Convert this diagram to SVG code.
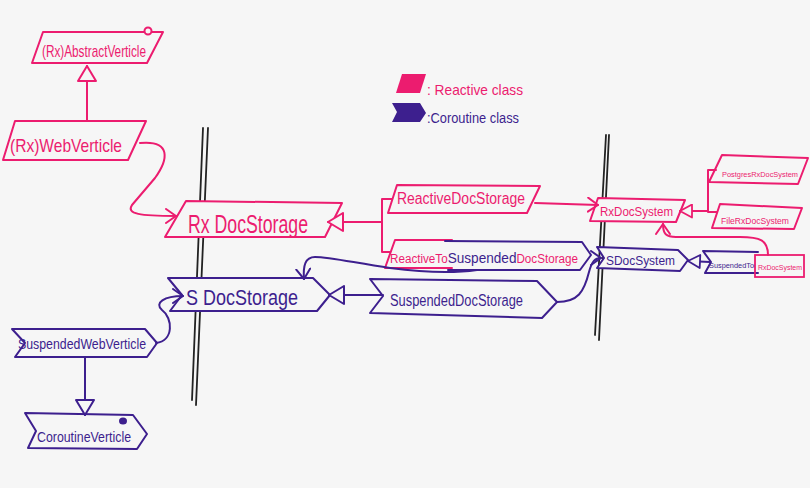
<svg xmlns="http://www.w3.org/2000/svg" width="810" height="488" viewBox="0 0 810 488">
<style>
.bg{fill:#f6f6f6}
.pk{fill:#f6f6f6;stroke:#ec1c6f;stroke-width:2;stroke-linejoin:round}
.pu{fill:#f6f6f6;stroke:#3d1f8e;stroke-width:2;stroke-linejoin:round}
.pkl{fill:none;stroke:#ec1c6f;stroke-width:2;stroke-linejoin:round;stroke-linecap:round}
.pul{fill:none;stroke:#3d1f8e;stroke-width:2;stroke-linejoin:round;stroke-linecap:round}
.wall{fill:none;stroke:#222;stroke-width:1.8;stroke-linecap:round}
.tp{font-family:"Liberation Sans","DejaVu Sans",sans-serif;fill:#ec1c6f}
.tu{font-family:"Liberation Sans","DejaVu Sans",sans-serif;fill:#3d1f8e}
.cp{fill:#ec1c6f}
.cu{fill:#3d1f8e}
</style>
<defs>
<marker id="openPk" markerUnits="userSpaceOnUse" viewBox="0 0 12 16" refX="11" refY="8" markerWidth="12" markerHeight="16" orient="auto"><path d="M1,1 L11,8 L1,15" fill="none" stroke="#ec1c6f" stroke-width="2" stroke-linecap="round" stroke-linejoin="round"/></marker>
<marker id="openPu" markerUnits="userSpaceOnUse" viewBox="0 0 12 16" refX="11" refY="8" markerWidth="12" markerHeight="16" orient="auto"><path d="M1,1 L11,8 L1,15" fill="none" stroke="#3d1f8e" stroke-width="2" stroke-linecap="round" stroke-linejoin="round"/></marker>
<marker id="triPk" markerUnits="userSpaceOnUse" viewBox="0 0 18 20" refX="17" refY="10" markerWidth="18" markerHeight="20" orient="auto"><path d="M2,1 L17,10 L2,19 Z" fill="#f6f6f6" stroke="#ec1c6f" stroke-width="2" stroke-linejoin="round"/></marker>
<marker id="triPu" markerUnits="userSpaceOnUse" viewBox="0 0 18 20" refX="17" refY="10" markerWidth="18" markerHeight="20" orient="auto"><path d="M2,1 L17,10 L2,19 Z" fill="#f6f6f6" stroke="#3d1f8e" stroke-width="2" stroke-linejoin="round"/></marker>
<marker id="triPkS" markerUnits="userSpaceOnUse" viewBox="0 0 15 15" refX="14" refY="7.5" markerWidth="15" markerHeight="15" orient="auto"><path d="M2,1 L14,7.5 L2,14 Z" fill="#f6f6f6" stroke="#ec1c6f" stroke-width="1.8" stroke-linejoin="round"/></marker>
<marker id="triPuS" markerUnits="userSpaceOnUse" viewBox="0 0 15 15" refX="14" refY="7.5" markerWidth="15" markerHeight="15" orient="auto"><path d="M2,1 L14,7.5 L2,14 Z" fill="#f6f6f6" stroke="#3d1f8e" stroke-width="1.8" stroke-linejoin="round"/></marker>
</defs>
<rect class="bg" x="0" y="0" width="810" height="488"/>

<g id="walls">
<path class="wall" d="M203,128 L192,400"/>
<path class="wall" d="M208,128 L196,405"/>
<path class="wall" d="M606,135 L595,335"/>
<path class="wall" d="M609,135 L599,340"/>
</g>

<g id="legend">
<polygon points="402,74 426,74 420,93 396,93" fill="#ec1c6f"/>
<polygon points="392,103 420,103 426,113 420,122 392,122 397,112" fill="#3d1f8e"/>
<text class="tp" x="427" y="95" font-size="15" textLength="96" lengthAdjust="spacingAndGlyphs">: Reactive class</text>
<text class="tu" x="427" y="123" font-size="14" textLength="92" lengthAdjust="spacingAndGlyphs">:Coroutine class</text>
</g>

<g id="abstractVerticle">
<polygon class="pk" points="43,32 163,32 147,63 32,63"/>
<circle cx="148" cy="31" r="3.5" fill="#f6f6f6" stroke="#ec1c6f" stroke-width="2"/>
<text class="tp" x="42" y="57" font-size="17" textLength="104" lengthAdjust="spacingAndGlyphs">(Rx)AbstractVerticle</text>
</g>

<g id="webVerticle">
<polygon class="pk" points="15,121 146,121 128,160 3,160"/>
<text class="tp" x="10" y="152" font-size="19" textLength="112" lengthAdjust="spacingAndGlyphs">(Rx)WebVerticle</text>
</g>

<g id="rxDocStorage">
<polygon class="pk" points="186,201 342,203 325,237 165,237"/>
<text class="tp" x="188" y="233" font-size="25" textLength="120" lengthAdjust="spacingAndGlyphs">Rx DocStorage</text>
</g>

<g id="reactiveDocStorage">
<polygon class="pk" points="397,185 540,186 527,213 388,213"/>
<text class="tp" x="397" y="204" font-size="16" textLength="128" lengthAdjust="spacingAndGlyphs">ReactiveDocStorage</text>
</g>

<g id="reactiveToSuspendedDocStorage">
<polygon points="395,240 582,242 591,255 580,270 385,268" fill="#f6f6f6"/>
<path class="pkl" d="M452,240 L395,240 L385,268 L452,268"/>
<path class="pul" d="M445,241 L582,242 L591,255 L580,270 L448,270"/>
<text class="tp" x="390" y="263" font-size="12" textLength="188" lengthAdjust="spacingAndGlyphs"><tspan class="cp">ReactiveTo</tspan><tspan class="cu" font-size="14">Suspended</tspan><tspan class="cp">DocStorage</tspan></text>
</g>

<g id="sDocStorage">
<polygon class="pu" points="168,278 313,278 330,295 317,311 170,311 182,295"/>
<text class="tu" x="186" y="305" font-size="22" textLength="112" lengthAdjust="spacingAndGlyphs">S DocStorage</text>
</g>

<g id="suspendedDocStorage">
<polygon class="pu" points="370,279 537,281 557,302 542,318 370,313 383,296"/>
<text class="tu" x="390" y="306" font-size="16" textLength="133" lengthAdjust="spacingAndGlyphs">SuspendedDocStorage</text>
</g>

<g id="rxDocSystem">
<polygon class="pk" points="598,198 685,200 676,222 590,221"/>
<text class="tp" x="600" y="216" font-size="13" textLength="73" lengthAdjust="spacingAndGlyphs">RxDocSystem</text>
</g>

<g id="postgresRxDocSystem">
<polygon class="pk" points="722,155 808,158 798,184 709,182"/>
<text class="tp" x="722" y="177" font-size="8" textLength="76" lengthAdjust="spacingAndGlyphs">PostgresRxDocSystem</text>
</g>

<g id="fileRxDocSystem">
<polygon class="pk" points="720,204 802,208 794,229 712,228"/>
<text class="tp" x="721" y="224" font-size="9.5" textLength="68" lengthAdjust="spacingAndGlyphs">FileRxDocSystem</text>
</g>

<g id="sDocSystem">
<polygon class="pu" points="597,247 678,250 688,260 680,271 597,268 604,258"/>
<text class="tu" x="606" y="265" font-size="13" textLength="69" lengthAdjust="spacingAndGlyphs">SDocSystem</text>
</g>

<g id="suspendedToRxDocSystem">
<polygon points="703,251 758,252 804,255 804,277 705,273 711,262" fill="#f6f6f6"/>
<path class="pul" d="M758,252 L703,251 L711,262 L705,273 L758,273"/>
<rect x="755" y="255" width="49" height="22" fill="none" stroke="#ec1c6f" stroke-width="1.8"/>
<text class="tu" x="709" y="268" font-size="7.6" textLength="45" lengthAdjust="spacingAndGlyphs">SuspendedTo</text>
<text class="tp" x="758" y="270" font-size="7.6" textLength="44" lengthAdjust="spacingAndGlyphs">RxDocSystem</text>
</g>

<g id="suspendedWebVerticle">
<polygon class="pu" points="12,329 145,329 157,343 147,357 15,357 25,343"/>
<text class="tu" x="18" y="349" font-size="14" textLength="128" lengthAdjust="spacingAndGlyphs">SuspendedWebVerticle</text>
</g>

<g id="coroutineVerticle">
<polygon class="pu" points="25,413 133,415 147,434 137,449 28,448 36,431"/>
<ellipse cx="123" cy="421" rx="4" ry="3.5" fill="#3d1f8e"/>
<text class="tu" x="37" y="442" font-size="15" textLength="94" lengthAdjust="spacingAndGlyphs">CoroutineVerticle</text>
</g>

<g id="connectors">
<path class="pkl" d="M87,121 L87,66" marker-end="url(#triPk)"/>
<path class="pkl" d="M140,143 C172,140 168,160 155,178 L132,205 C126,214 140,216 176,216" marker-end="url(#openPk)"/>
<path class="pkl" d="M392,199 L382,199 L382,252 L390,252"/>
<path class="pkl" d="M382,222 L328,222" marker-end="url(#triPk)"/>
<path class="pkl" d="M535,203 L598,205" marker-end="url(#openPk)"/>
<path class="pul" d="M477,270 C450,274 420,272 390,268 C355,263 330,257 315,257 C305,257 303,266 304,279" marker-end="url(#openPu)"/>
<path class="pul" d="M383,295 L329,295" marker-end="url(#triPu)"/>
<path class="pul" d="M557,302 C578,302 584,292 589,272 C592,261 595,258 601,258" marker-end="url(#openPu)"/>
<path class="pul" d="M156,343 C174,341 173,318 162,310 C154,303 164,296 183,296" marker-end="url(#openPu)"/>
<path class="pul" d="M85,357 L85,415" marker-end="url(#triPu)"/>
<path class="pkl" d="M716,170 L708,170 L708,212 L717,212"/>
<path class="pkl" d="M708,211 L680,211" marker-end="url(#triPkS)"/>
<path class="pul" d="M710,262 L688,261" marker-end="url(#triPuS)"/>
<path class="pkl" d="M768,255 C768,240 760,237 740,237 L676,237 C666,237 663,234 663,224" marker-end="url(#openPk)"/>
</g>
</svg>
